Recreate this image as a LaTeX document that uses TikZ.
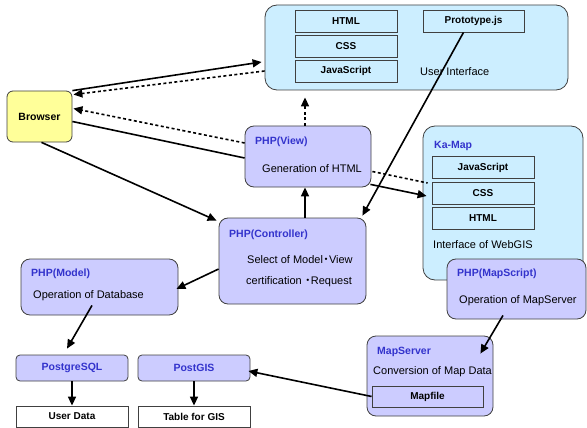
\documentclass[tikz,border=0pt]{standalone}
\usepackage{fontspec}
\setmainfont{Liberation Sans}
\newfontfamily\jpfont{Noto Sans CJK JP}
\usetikzlibrary{arrows.meta,fit}
\definecolor{uiblue}{RGB}{204,238,255}
\definecolor{lavender}{RGB}{204,204,255}
\definecolor{browseryel}{RGB}{255,255,153}
\definecolor{titleblue}{RGB}{51,51,204}
\newcommand\jpdot{{\jpfont\kern-2.5pt ・\kern-2.5pt}}
\tikzset{
  panel/.style={draw=black!75, fill=uiblue, rounded corners=12pt, inner sep=0pt, line width=0.8pt},
  lav/.style={draw=black!75, fill=lavender, rounded corners=9pt, inner sep=0pt, line width=0.8pt},
  tag/.style={draw=black!75, fill=uiblue, inner sep=0pt, line width=0.8pt, minimum width=102pt, minimum height=22pt,
              font=\bfseries\fontsize{10}{12}\selectfont},
  db/.style={lav, rounded corners=4pt, minimum width=112pt, minimum height=26pt, text=titleblue,
             font=\bfseries\fontsize{10.5}{12}\selectfont},
  ttl/.style={anchor=west, inner sep=0pt, text=titleblue, font=\bfseries\fontsize{10.5}{12}\selectfont},
  txt/.style={anchor=west, inner sep=0pt, font=\fontsize{11}{13}\selectfont},
  arr/.style={-{Triangle[length=9pt,width=8pt]}, line width=1.6pt},
  dots/.style={line width=2.2pt, dash pattern=on 3pt off 2.5pt},
}
\begin{document}
\begin{tikzpicture}[x=1pt,y=-1pt]
  \useasboundingbox (0,0) rectangle (587,428);
  % user interface
  \node[panel, fit={(265,5) (568,90)}] (ui) {};
  \node[tag] (html) at (346,21) {HTML};
  \node[tag] (css) at (346,46) {CSS};
  \node[tag] (js) at (346,71) {JavaScript};
  \node[tag, minimum width=101pt] (proto) at (473.5,21) {Prototype.js};
  \node[txt] (uitxt) at (420,72) {User Interface};
  % browser
  \node[draw=black!75, fill=browseryel, rounded corners=6pt, inner sep=0pt, line width=0.8pt,
        minimum width=65pt, minimum height=51pt, font=\bfseries\fontsize{10.5}{12}\selectfont] (browser) at (39.5,116.5) {Browser};
  % ka-map
  \node[panel, fit={(423,126) (583,280)}] (kamap) {};
  \node[ttl] (kamaptl) at (434,146) {Ka-Map};
  \node[tag] (kjs) at (483,167.5) {JavaScript};
  \node[tag] (kcss) at (483,193) {CSS};
  \node[tag] (khtml) at (483,218.5) {HTML};
  \node[txt] (kamaptxt) at (433,245) {Interface of WebGIS};
  % php boxes
  \node[lav, fit={(245,126) (371,187)}] (view) {};
  \node[ttl] (viewtl) at (255,142) {PHP(View)};
  \node[txt] (viewtxt) at (262,169) {Generation of HTML};
  \node[lav, fit={(219,218) (366,304)}] (ctrl) {};
  \node[ttl] (ctrltl) at (229,235) {PHP(Controller)};
  \node[txt] (ctrltxt) at (247,260) {Select of Model\jpdot View};
  \node[txt] (ctrltxtb) at (246,282) {certification \jpdot Request};
  \node[lav, fit={(21,259) (178,315)}] (model) {};
  \node[ttl] (modeltl) at (31,274) {PHP(Model)};
  \node[txt] (modeltxt) at (33,296) {Operation of Database};
  \node[lav, fit={(447,259) (586,319)}] (mscript) {};
  \node[ttl] (mscripttl) at (457,274) {PHP(MapScript)};
  \node[txt] (mscripttxt) at (459,301) {Operation of MapServer};
  \node[lav, fit={(367,336) (493,416)}] (msrv) {};
  \node[ttl] (msrvtl) at (377,352) {MapServer};
  \node[txt] (msrvtxt) at (373,372) {Conversion of Map Data};
  \node[tag, fill=lavender, minimum width=111pt, minimum height=21pt] (mapfile) at (427.5,396.5) {Mapfile};
  % database
  \node[db] (pg) at (72,368) {PostgreSQL};
  \node[db] (gis) at (194,368) {PostGIS};
  \node[tag, fill=white, minimum width=112pt, minimum height=21pt] (udata) at (72,416.5) {User Data};
  \node[tag, fill=white, minimum width=112pt, minimum height=21pt] (tgis) at (194,416.5) {Table for GIS};
  % connectors
  \draw[arr] (browser.north east) -- ([xshift=-3pt,yshift=-14.5pt]ui.west);
  \draw[dots, arr] ([yshift=-23.5pt]ui.west) -- ([xshift=1pt,yshift=-4pt]browser.north east);
  \draw[dots, arr] ([yshift=13.5pt]view.west) -- ([xshift=1pt,yshift=8pt]browser.east);
  \draw[line width=1.6pt] ([yshift=-5pt]browser.east) -- ([yshift=-1.5pt]view.west);
  \draw[arr] ([xshift=2pt]browser.south) -- ([xshift=-2pt,yshift=-3pt]ctrl.north west);
  \draw[dots, arr] ([xshift=-3pt]view.north) -- ([xshift=-3pt,yshift=-7pt]view.north |- ui.south);
  \draw[arr] ([xshift=-3pt]view.south |- ctrl.north) -- ([xshift=-3pt]view.south);
  \draw[arr] ([xshift=-1pt,yshift=3pt]view.south east) -- ([xshift=4pt,yshift=7pt]kamap.west);
  \draw[dots, line width=1.6pt] ([xshift=1pt,yshift=-15pt]view.east) -- ([xshift=5pt,yshift=20pt]kamap.west);
  \draw[arr] ([xshift=-10pt]proto.south) -- ([xshift=-4pt,yshift=2pt]ctrl.north east);
  \draw[arr] ([yshift=-8pt]ctrl.west) -- ([xshift=-2pt,yshift=-2pt]model.east);
  \draw[arr] ([xshift=-7.5pt,yshift=10pt]model.south) -- ([xshift=-5pt,yshift=6pt]pg.north);
  \draw[arr] (pg.south) -- (udata.north);
  \draw[arr] (gis.south) -- (tgis.north);
  \draw[arr] (mapfile.west) -- ([xshift=-2pt,yshift=-3pt]gis.east);
  \draw[arr] ([xshift=-13.5pt,yshift=4pt]mscript.south) -- ([xshift=-13pt,yshift=-18pt]msrv.north east);
\end{tikzpicture}
\end{document}
